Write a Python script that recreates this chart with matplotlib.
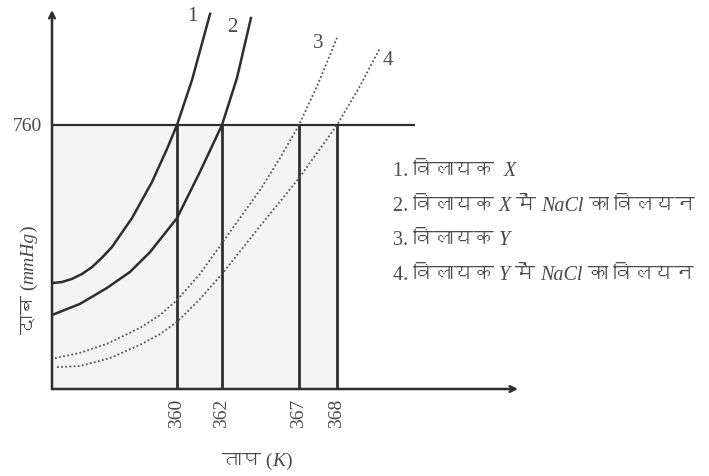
import numpy as np
import matplotlib
matplotlib.use("Agg")
import matplotlib.pyplot as plt
from matplotlib import font_manager as fm
from matplotlib.ft2font import FT2Font

# ---------------- data ----------------
boiling_points = [360, 362, 367, 368]
tick_labels = ["360", "362", "367", "368"]
p_atm = 760

# curve 1: solvent X
c1_T = [350.0, 350.8, 351.6, 352.4, 353.2, 354.0, 354.8, 356.4, 358.0, 359.2,
        360.0, 360.67, 361.47]
c1_P = [305, 308, 317, 331, 351, 378, 409, 492, 596, 691, 760, 890, 1080]
# curve 2: NaCl solution in solvent X
c2_T = [350.0, 352.24, 354.4, 356.24, 357.84, 360.0, 361.02, 362.0, 362.97, 363.88]
c2_P = [213, 245, 291, 337, 394, 492, 625, 760, 895, 1068]
# curve 3: solvent Y
c3_T = [350.24, 352.24, 354.4, 357.04, 358.64, 360.0, 361.02, 362.0, 364.47,
        365.77, 367.0, 367.5, 368.0]
c3_P = [89, 104, 130, 176, 213, 256, 331, 420, 573, 665, 760, 878, 1011]
# curve 4: NaCl solution in solvent Y
c4_T = [350.4, 352.24, 354.64, 357.04, 358.64, 360.0, 361.02, 362.0, 364.47,
        367.0, 368.0, 369.27, 370.38]
c4_P = [63, 66, 89, 127, 158, 193, 259, 331, 469, 607, 760, 872, 982]

curve_names = ["1", "2", "3", "4"]
legend_entries = [
    [("1. विलायक  ", "normal"), ("X", "italic")],
    [("2. विलायक ", "normal"), ("X", "italic"), (" में ", "normal"),
     ("NaCl", "italic"), (" का विलयन", "normal")],
    [("3. विलायक ", "normal"), ("Y", "italic")],
    [("4. विलायक ", "normal"), ("Y", "italic"), (" में ", "normal"),
     ("NaCl", "italic"), (" का विलयन", "normal")],
]
xlabel_runs = [("ताप (", "normal"), ("K", "italic"), (")", "normal")]
ylabel_runs = [("दाब (", "normal"), ("mmHg", "italic"), (")", "normal")]

# ---------------- fonts ----------------
deva = None
for f in fm.fontManager.ttflist:
    try:
        if 0x0915 in FT2Font(f.fname).get_charmap():
            deva = f.name
            break
    except Exception:
        pass
families = ["Liberation Serif"] + ([deva] if deva else []) + ["DejaVu Sans"]
plt.rcParams["font.family"] = families

W, H = 709, 476
fig = plt.figure(figsize=(W / 100, H / 100), dpi=100)
ax = fig.add_axes([52 / W, 1 - 389 / H, (518 - 52) / W, (389 - 10) / H])

# schematic (non-uniform) temperature scale, as drawn in the original
T_anchor = [350, 360, 362, 367, 368, 378]
px_anchor = [0, 125, 170, 247, 285, 466]
fwd = lambda t: np.interp(t, T_anchor, px_anchor)
inv = lambda p: np.interp(p, px_anchor, T_anchor)
ax.set_xscale("function", functions=(fwd, inv))
ax.set_xlim(350, 378)
ax.set_ylim(0, 1091)

dark = "#2e2e2e"
txt = "#4a4a4a"

ax.fill_between([350, 368], 0, p_atm, color="#f4f4f4", zorder=0, lw=0)
ax.hlines(p_atm, 350, 372.3, color=dark, lw=1.6, zorder=2)
ax.vlines(boiling_points, 0, p_atm, color=dark, lw=2.0, zorder=2)

ax.plot(c1_T, c1_P, color=dark, lw=1.8, zorder=3)
ax.plot(c2_T, c2_P, color=dark, lw=1.8, zorder=3)
ax.plot(c3_T, c3_P, color="#555555", lw=1.3, ls=(0, (1, 1.3)), zorder=3)
ax.plot(c4_T, c4_P, color="#555555", lw=1.3, ls=(0, (1, 1.3)), zorder=3)

label_pos = [(360.67, 1071), (362.65, 1042), (367.5, 996), (370.8, 947)]
for name, (tx, py) in zip(curve_names, label_pos):
    ax.text(tx, py, name, fontsize=15, color=txt, ha="center", va="center")

for s in ax.spines.values():
    s.set_visible(False)
ax.annotate("", xy=(1, 0), xytext=(0, 0), xycoords="axes fraction",
            arrowprops=dict(arrowstyle="->", color=dark, lw=1.8,
                            shrinkA=0, shrinkB=0))
ax.annotate("", xy=(0, 1), xytext=(0, 0), xycoords="axes fraction",
            arrowprops=dict(arrowstyle="->", color=dark, lw=1.8,
                            shrinkA=0, shrinkB=0))

ax.set_xticks(boiling_points, labels=tick_labels, rotation=90)
ax.set_yticks([p_atm], labels=[str(p_atm)])
ax.minorticks_off()
ax.tick_params(axis="both", length=0, labelsize=14, labelcolor=txt)
ax.tick_params(axis="x", pad=7)
ax.tick_params(axis="y", pad=7)


def chain_h(runs, x0, yb, fs=14):
    prev = None
    for s, style in runs:
        if prev is None:
            prev = ax.annotate(s, xy=(x0, H - yb), xycoords="figure pixels",
                               fontsize=fs, color=txt, style=style,
                               ha="left", va="baseline", annotation_clip=False)
        else:
            prev = ax.annotate(s, xy=(1, H - yb),
                               xycoords=(prev, "figure pixels"),
                               fontsize=fs, color=txt, style=style,
                               ha="left", va="baseline", annotation_clip=False)


def chain_v(runs, xc, y0, fs=14):
    prev = None
    for s, style in runs:
        if prev is None:
            prev = ax.annotate(s, xy=(xc, H - y0), xycoords="figure pixels",
                               fontsize=fs, color=txt, style=style, rotation=90,
                               ha="center", va="bottom", annotation_clip=False)
        else:
            prev = ax.annotate(s, xy=(xc, 1),
                               xycoords=("figure pixels", prev),
                               fontsize=fs, color=txt, style=style, rotation=90,
                               ha="center", va="bottom", annotation_clip=False)


chain_h(xlabel_runs, 222, 466)
chain_v(ylabel_runs, 29, 334)

# legend text with mixed styles
baselines = [176, 211, 245, 280]
for runs, yb in zip(legend_entries, baselines):
    chain_h(runs, 393, yb, fs=14.5)

fig.savefig("out.png", dpi=100)
